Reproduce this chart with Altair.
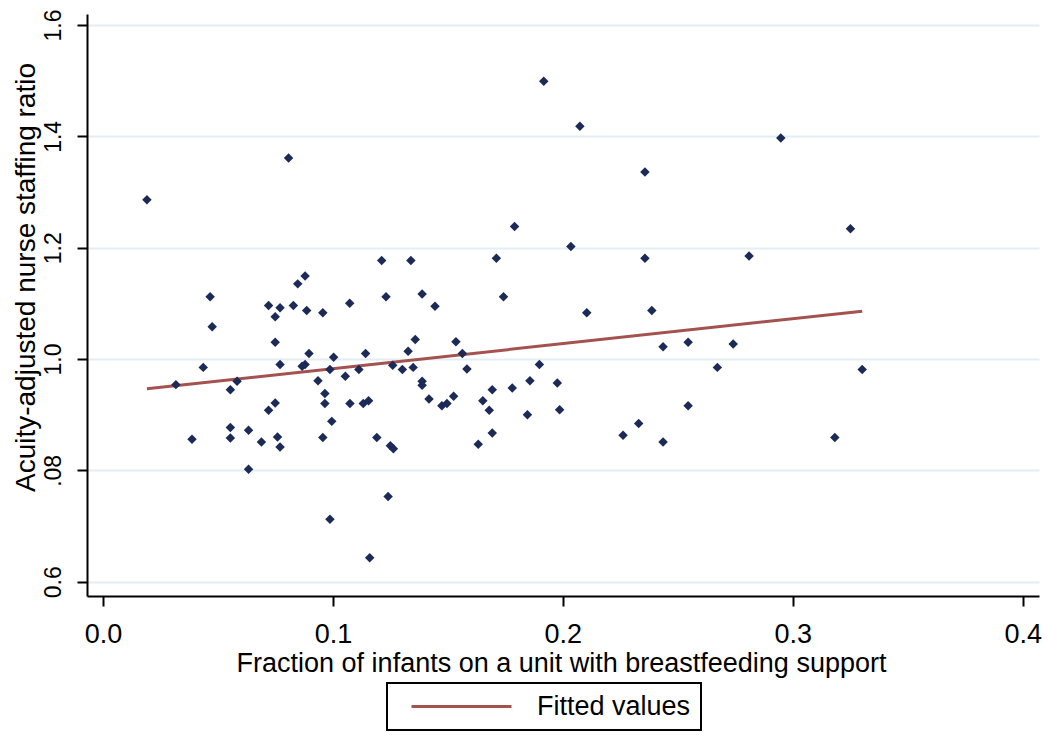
import altair as alt
import pandas as pd

# ---- data ----
x_values = [
    0.0191, 0.0807, 0.0466, 0.0879, 0.0847, 0.0720, 0.0770, 0.0828, 0.0886, 0.0956,
    0.0749, 0.0475, 0.0749, 0.0896, 0.1003, 0.0436, 0.0770, 0.0866, 0.0879, 0.0987,
    0.0317, 0.0583, 0.0554, 0.0935, 0.0965, 0.0965, 0.0749, 0.0720, 0.0995, 0.0554,
    0.0554, 0.0633, 0.0387, 0.0689, 0.0759, 0.0770, 0.0956, 0.0633, 0.0987, 0.1917,
    0.2074, 0.1790, 0.2035, 0.1212, 0.1339, 0.1711, 0.1073, 0.1231, 0.1388, 0.1444,
    0.1742, 0.2104, 0.2387, 0.1054, 0.1113, 0.1142, 0.1074, 0.1132, 0.1155, 0.1191,
    0.1250, 0.1263, 0.1240, 0.1160, 0.1260, 0.1302, 0.1327, 0.1358, 0.1349, 0.1388,
    0.1388, 0.1418, 0.1474, 0.1496, 0.1525, 0.1535, 0.1563, 0.1583, 0.1652, 0.1680,
    0.1693, 0.1693, 0.1632, 0.1780, 0.1857, 0.1898, 0.1846, 0.1976, 0.1986, 0.2948,
    0.2357, 0.3251, 0.2357, 0.2810, 0.2436, 0.2545, 0.2741, 0.2672, 0.3302, 0.2545,
    0.2330, 0.2262, 0.2436, 0.3183,
]
y_values = [
    1.286, 1.361, 1.112, 1.149, 1.135, 1.096, 1.092, 1.096, 1.087, 1.083,
    1.076, 1.058, 1.030, 1.010, 1.003, 0.985, 0.990, 0.987, 0.990, 0.981,
    0.954, 0.960, 0.945, 0.961, 0.938, 0.920, 0.921, 0.908, 0.888, 0.877,
    0.858, 0.872, 0.856, 0.851, 0.860, 0.842, 0.859, 0.802, 0.712, 1.499,
    1.418, 1.238, 1.202, 1.177, 1.177, 1.181, 1.100, 1.112, 1.117, 1.095,
    1.112, 1.083, 1.087, 0.969, 0.981, 1.010, 0.920, 0.920, 0.925, 0.859,
    0.844, 0.839, 0.753, 0.643, 0.989, 0.981, 1.014, 1.035, 0.985, 0.960,
    0.953, 0.928, 0.916, 0.920, 0.933, 1.031, 1.010, 0.982, 0.925, 0.908,
    0.945, 0.867, 0.847, 0.948, 0.961, 0.990, 0.900, 0.957, 0.909, 1.397,
    1.336, 1.234, 1.181, 1.185, 1.022, 1.030, 1.027, 0.985, 0.981, 0.916,
    0.884, 0.863, 0.851, 0.859,
]
fit_x = [0.0191, 0.3302]
fit_y = [0.9465, 1.086]
fit_series = ["Fitted values", "Fitted values"]

x_ticks = [0.0, 0.1, 0.2, 0.3, 0.4]
x_tick_labels = ["0.0", "0.1", "0.2", "0.3", "0.4"]
y_ticks = [0.6, 0.8, 1.0, 1.2, 1.4, 1.6]
y_tick_labels = ["0.6", ".08", "1.0", "1.2", "1.4", "1.6"]
x_title = "Fraction of infants on a unit with breastfeeding support"
y_title = "Acuity-adjusted nurse staffing ratio"

POINT_COLOR = "#1c2a58"
LINE_COLOR = "#a4524f"
GRID_COLOR = "#e4eef2"
FONT = "Liberation Sans"


def label_expr(values, labels):
    expr = "''"
    for v, l in reversed(list(zip(values, labels))):
        expr = f"(abs(datum.value - {v}) < 1e-6 ? '{l}' : {expr})"
    return expr


pts = pd.DataFrame({"x": x_values, "y": y_values})
fit = pd.DataFrame({"x": fit_x, "y": fit_y, "series": fit_series})

xscale = alt.Scale(domain=[-0.00696, 0.4071], nice=False, zero=False)
yscale = alt.Scale(domain=[0.5743, 1.6198], nice=False, zero=False)

xaxis = alt.Axis(
    values=x_ticks,
    labelExpr=label_expr(x_ticks, x_tick_labels),
    title=x_title,
    grid=False,
    labelFontSize=27,
    labelPadding=15,
    titleFontSize=27,
    titleBaseline="top",
    titleX=474,
    titleY=54,
)
yaxis = alt.Axis(
    values=y_ticks,
    labelExpr=label_expr(y_ticks, y_tick_labels),
    title=y_title,
    grid=True,
    gridColor=GRID_COLOR,
    gridWidth=2,
    labelFontSize=23,
    labelAngle=270,
    labelAlign="center",
    labelBaseline="bottom",
    labelPadding=12,
    titleFontSize=28,
    titleAngle=270,
    titleAlign="center",
    titleBaseline="bottom",
    titleX=-47,
    titleY=263,
)

line = alt.Chart(fit).mark_line(strokeWidth=3).encode(
    x=alt.X("x:Q", scale=xscale, axis=xaxis),
    y=alt.Y("y:Q", scale=yscale, axis=yaxis),
    color=alt.Color(
        "series:N",
        scale=alt.Scale(domain=["Fitted values"], range=[LINE_COLOR]),
        legend=alt.Legend(
            title=None,
            orient="none",
            legendX=300,
            legendY=669,
            strokeColor="black",
            padding=10,
            symbolType="M-5,0H5",
            symbolSize=400,
            symbolStrokeWidth=3,
            symbolOffset=51,
            labelOffset=62,
            labelFontSize=27,
            labelFont=FONT,
            labelColor="black",
        ),
    ),
)

points = alt.Chart(pts).mark_point(
    shape="diamond", filled=True, size=90, color=POINT_COLOR, opacity=1
).encode(
    x=alt.X("x:Q", scale=xscale, axis=xaxis),
    y=alt.Y("y:Q", scale=yscale, axis=yaxis),
)

chart = (
    alt.layer(line, points)
    .properties(
        width=952,
        height=582,
        autosize=alt.AutoSizeParams(type="none"),
        padding={"left": 79, "top": 6, "right": 3, "bottom": 136},
    )
    .configure(font=FONT, background="white")
    .configure_axis(
        domainColor="black",
        domainWidth=2,
        tickColor="black",
        tickWidth=2,
        tickSize=10,
        labelColor="black",
        titleColor="black",
        titleFontWeight="normal",
        labelFont=FONT,
        titleFont=FONT,
    )
    .configure_legend(strokeWidth=2)
    .configure_view(strokeWidth=0)
)

chart.save("out.html", embed_options={"renderer": "svg", "actions": False})
